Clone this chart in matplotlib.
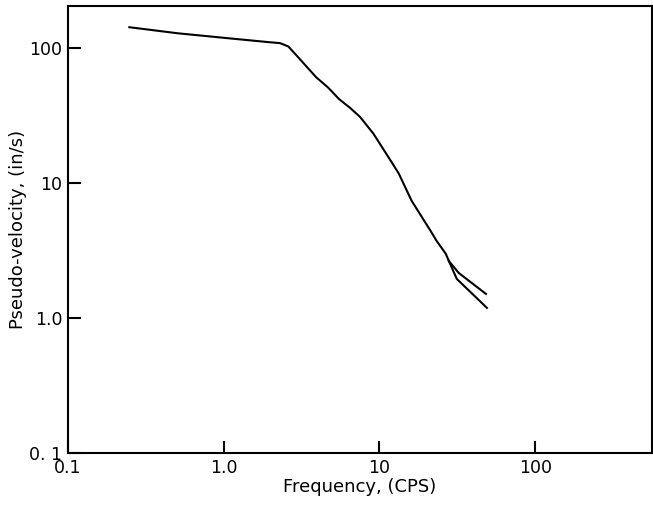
import matplotlib
matplotlib.use("Agg")
import matplotlib.pyplot as plt
from matplotlib.ticker import FixedLocator, FixedFormatter, NullLocator

# main curve (shared part up to the split near 28 cps)
freq_main = [0.248, 0.505, 1.11, 1.92, 2.3, 2.6, 3.0, 3.92, 4.69, 5.5, 6.5,
             7.5, 9.14, 11.8, 13.3, 16.1, 21.3, 23.3, 26.7, 27.9]
vel_main = [143, 129, 118, 111, 109, 103, 86, 61, 51, 42, 36,
            31, 23.3, 14.7, 11.8, 7.4, 4.43, 3.73, 2.99, 2.65]

# two branches after the split
freq_upper = [27.9, 32.3, 48.3]
vel_upper = [2.65, 2.16, 1.51]
freq_lower = [27.9, 31.4, 49.0]
vel_lower = [2.65, 1.95, 1.19]

x_ticks = [0.1, 1.0, 10, 100]
x_labels = ["0.1", "1.0", "10", "100"]
y_ticks = [0.1, 1.0, 10, 100]
y_labels = ["0. 1", "1.0", "10", "100"]

fig = plt.figure(figsize=(6.53, 5.09), dpi=100)
ax = fig.add_axes([0.104, 0.110, 0.894, 0.878])

ax.plot(freq_main + freq_upper[1:], vel_main + vel_upper[1:], color="black", lw=1.5)
ax.plot(freq_lower, vel_lower, color="black", lw=1.5)

ax.set_xscale("log")
ax.set_yscale("log")
ax.set_xlim(0.1, 560)
ax.set_ylim(0.1, 205)

ax.xaxis.set_major_locator(FixedLocator(x_ticks))
ax.xaxis.set_major_formatter(FixedFormatter(x_labels))
ax.xaxis.set_minor_locator(NullLocator())
ax.yaxis.set_major_locator(FixedLocator(y_ticks))
ax.yaxis.set_major_formatter(FixedFormatter(y_labels))
ax.yaxis.set_minor_locator(NullLocator())

ax.tick_params(direction="in", length=9, width=1.5, labelsize=12.5, pad=4)
for s in ax.spines.values():
    s.set_linewidth(1.5)

ax.set_xlabel("Frequency, (CPS)", fontsize=13, labelpad=1)
ax.set_ylabel("Pseudo-velocity, (in/s)", fontsize=13, labelpad=2)

fig.savefig("out.png", dpi=100)
